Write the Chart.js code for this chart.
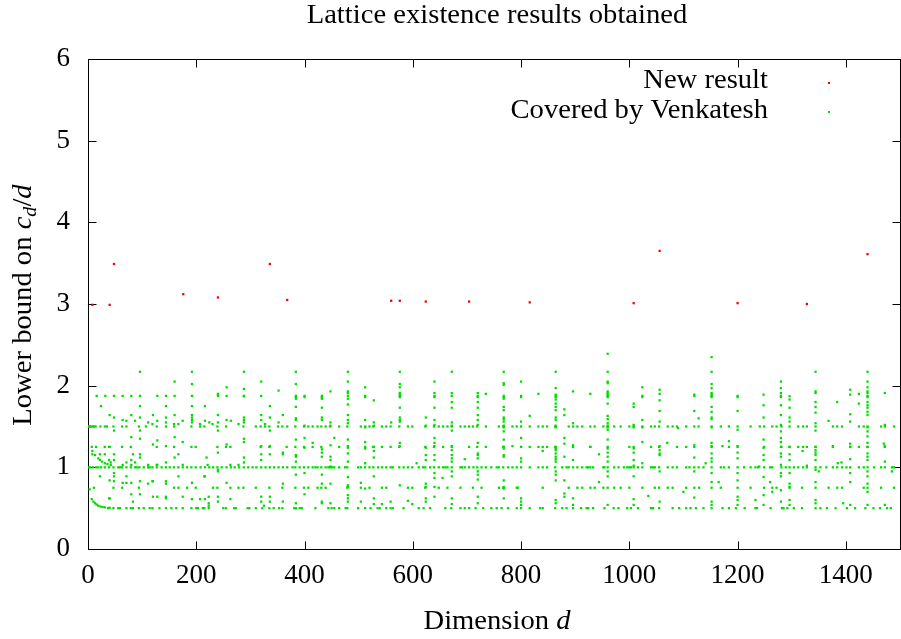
<!DOCTYPE html>
<html>
<head>
<meta charset="utf-8">
<script src="https://cdn.jsdelivr.net/npm/chart.js@4.4.0/dist/chart.umd.min.js"></script>
<style>
  html, body { margin: 0; padding: 0; background: #fff; overflow: hidden; }
  #wrap { width: 904px; height: 639px; }
</style>
</head>
<body>
<div id="wrap"><canvas id="latticeChart" width="904" height="639"></canvas></div>
<script>
// red points: new results
const newD = [8, 40, 48, 176, 240, 336, 368, 560, 576, 624, 704, 816, 1008, 1056, 1200, 1328, 1440];
const newVal = [2.99, 2.99, 3.49, 3.12, 3.08, 3.49, 3.05, 3.04, 3.04, 3.03, 3.03, 3.02, 3.01, 3.65, 3.01, 3.0, 3.61];

// green points, horizontal rows (d values at a given level)
const rowHalf = [37, 47, 56, 59, 71, 79, 83, 94, 103, 114, 119, 132, 144, 154, 163, 175, 191, 200, 203, 212, 215, 223, 250, 255, 270, 273, 295, 298, 310, 322, 335, 343, 353, 359,
  381, 384, 391, 395, 420, 444, 450, 455, 464, 476, 479, 499, 512, 522, 535, 539, 551, 559, 563, 583, 611, 620, 632, 660, 671, 688, 696, 704, 716, 730,
  745, 755, 764, 776, 792, 800, 816, 835, 840, 863, 876, 884, 896, 911, 921, 924, 933, 954, 971, 980, 996, 1003, 1016, 1040, 1044, 1055, 1080, 1092, 1105,
  1113, 1123, 1137, 1152, 1172, 1184, 1197, 1213, 1233, 1236, 1261, 1282, 1285, 1292, 1304, 1319, 1344, 1353, 1365, 1381, 1402, 1417, 1436, 1451, 1463, 1476, 1483];
const rowThreeQuarter = [11, 47, 63, 94, 159, 167, 183, 199, 231, 239, 263, 278, 287, 310, 335, 359, 383, 399, 407, 424, 431, 439, 479, 504, 520, 543, 551, 591, 599, 623, 648, 664, 688, 711, 727,
  759, 767, 792, 794, 840, 888, 904, 913, 928, 936, 952, 960, 972, 984, 1000, 1024, 1047, 1055, 1071, 1080, 1105,
  1120, 1129, 1152, 1169, 1200, 1224, 1249, 1264, 1272, 1296, 1319, 1344, 1368, 1384, 1393, 1433, 1440, 1465, 1489];
const rowOne = [1, 4, 9, 15, 19, 24, 31, 39, 47, 56, 59, 63, 71, 79, 87, 91, 95, 103, 111, 114, 119, 127, 136, 144, 151, 159, 167, 175, 183, 191, 199, 208, 216, 224, 231, 239, 247, 256, 264, 271, 279, 288, 296, 304, 311, 320, 328, 336, 344, 352, 360, 368,
  378, 383, 391, 399, 407, 415, 420, 424, 431, 439, 444, 447, 451, 455, 464, 475, 479, 499, 504, 512, 520, 527, 536, 543, 551, 559, 563, 575, 583, 591, 599, 611, 619, 623, 632, 639, 648, 656, 660, 664, 672, 688, 691, 696, 704, 712, 719, 727, 735,
  745, 755, 759, 767, 776, 784, 792, 800, 816, 832, 840, 848, 863, 876, 884, 888, 896, 904, 913, 921, 924, 928, 933, 952, 954, 960, 972, 980, 996, 1000, 1003, 1008, 1016, 1024, 1040, 1044, 1047, 1055, 1071, 1080, 1088, 1105,
  1111, 1120, 1128, 1137, 1152, 1169, 1175, 1184, 1200, 1212, 1224, 1233, 1238, 1249, 1260, 1264, 1281, 1289, 1296, 1304, 1312, 1321, 1328, 1344, 1353, 1364, 1376, 1384, 1393, 1401, 1408, 1424, 1433, 1440, 1452, 1465, 1472, 1485, 1489];
const rowFiveQuarter = [7, 15, 31, 39, 63, 79, 127, 159, 191, 199, 239, 255, 263, 319, 335, 367, 383, 399, 415, 431, 464, 512, 527, 543, 559, 575, 623, 639, 656, 672, 704, 719, 735,
  767, 800, 816, 832, 840, 848, 863, 896, 928, 960, 1000, 1008, 1040, 1055, 1088, 1105,
  1120, 1152, 1184, 1200, 1249, 1281, 1296, 1312, 1321, 1328, 1344, 1376, 1408, 1424, 1440, 1472];
const rowThreeHalf = [1, 2, 4, 6, 9, 11, 14, 23, 31, 35, 47, 63, 71, 94, 107, 127, 144, 159, 191, 207, 215, 239, 255, 287, 310, 319, 327, 335, 351, 359, 368,
  383, 399, 407, 415, 424, 431, 439, 447, 464, 479, 504, 512, 520, 527, 543, 551, 559, 575, 591, 599, 623, 639, 648, 656, 664, 672, 688, 696, 704, 711, 719, 735,
  759, 767, 784, 792, 800, 816, 832, 840, 848, 863, 888, 896, 904, 913, 928, 936, 952, 960, 972, 984, 1000, 1008, 1024, 1040, 1047, 1055, 1071, 1080, 1088, 1105,
  1120, 1128, 1152, 1169, 1184, 1200, 1224, 1241, 1249, 1264, 1272, 1281, 1296, 1312, 1321, 1328, 1344, 1376, 1384, 1393, 1424, 1433, 1440, 1465, 1472, 1489];
const rowFifteenEighth = [16, 32, 48, 64, 80, 96, 128, 144, 160, 192, 240, 256, 288, 320, 384, 400, 432, 480, 512, 576, 640, 672, 720, 768, 800, 864, 960, 1024, 1120, 1152, 1200, 1280, 1440];
const rowLevels = [0.5, 0.75, 1, 1.25, 1.5, 1.875];
const rowLists = [rowHalf, rowThreeQuarter, rowOne, rowFiveQuarter, rowThreeHalf, rowFifteenEighth];

// green points, vertical columns (values at a given d)
const colD = [24, 40, 48, 64, 80, 96, 120, 128, 144, 160, 192, 216, 240, 256, 288, 320, 336, 352, 360,
  384, 400, 432, 448, 480, 512, 528, 576, 624, 640, 672, 720,
  768, 800, 864, 880, 896, 928, 960, 1008, 1024, 1056,
  1120, 1152, 1200, 1248, 1280, 1296, 1344, 1408, 1440, 1472];
const colVals = [
  [1.75],
  [1.64, 1.25, 0.84, 0.62],
  [1.61, 1.45, 1.16, 1.09, 0.93, 0.89, 0.83],
  [1.58, 1.03, 0.81],
  [1.64, 1.37, 1.09, 1.03, 0.81, 0.67],
  [2.17, 1.75, 1.61, 1.45, 1.35, 1.16, 1.12, 0.83, 0.67],
  [1.64, 1.28, 0.83, 0.64],
  [1.57, 1.33, 1.03, 0.64],
  [1.75, 1.61, 1.55, 1.26, 1.06, 0.83, 0.8, 0.64, 0.62],
  [2.05, 1.64, 1.37, 1.12],
  [2.17, 2.02, 1.75, 1.64, 1.61, 1.58, 1.55, 0.81, 0.61],
  [1.75, 1.57, 0.89, 0.61],
  [1.9, 1.64, 1.55, 1.45, 1.18, 0.97, 0.95, 0.64, 0.58],
  [1.98, 1.58, 1.28, 0.81],
  [2.17, 1.96, 1.87, 1.61, 1.58, 1.55, 1.35, 1.31, 1.12, 1.06],
  [2.05, 1.64, 1.58, 1.26, 1.16, 1.09, 0.64, 0.58],
  [1.75, 1.61, 1.45, 1.26, 1.16, 0.64, 0.58],
  [1.94, 1.55],
  [1.64, 1.18, 1.16, 0.8, 0.58],
  [2.17, 2.02, 1.86, 1.84, 1.74, 1.6, 1.58, 1.34, 1.15, 1.13, 1.07, 0.91, 0.56],
  [1.86, 1.51, 1.36, 1.24, 0.93, 0.67],
  [1.86, 1.84, 1.73, 1.61, 1.58, 1.22, 1.18, 1.13, 0.91, 0.8, 0.58, 0.56],
  [1.93, 1.55, 1.51, 1.27, 1.13, 1.09, 1.01, 0.8, 0.56],
  [2.17, 2.05, 1.93, 1.91, 1.84, 1.77, 1.64, 1.58, 1.54, 1.34, 1.26, 1.24, 1.17, 1.07, 0.88, 0.78, 0.76, 0.66, 0.62, 0.58],
  [1.98, 1.86, 1.58, 1.49, 1.31, 1.23, 1.05, 0.74],
  [1.82, 1.55, 1.51, 1.25, 1.2, 1.12, 0.89, 0.62, 0.55],
  [2.17, 2.02, 1.98, 1.91, 1.89, 1.86, 1.73, 1.61, 1.58, 1.56, 1.3, 1.26, 0.78],
  [1.61, 1.51, 1.24, 1.15, 1.09, 0.8, 0.76, 0.62, 0.58],
  [2.05, 1.91, 1.86, 1.73, 1.58, 1.52, 1.36, 1.3, 1.26, 1.15, 1.09, 0.93, 0.87, 0.76, 0.64],
  [2.17, 1.91, 1.8, 1.73, 1.55, 1.51, 1.45, 1.26, 1.21, 1.15, 1.11, 1.07, 0.95, 0.89, 0.62, 0.55],
  [1.91, 1.86, 1.8, 1.73, 1.64, 1.58, 1.52, 1.3, 1.17, 1.15, 1.11, 0.95, 0.91, 0.85, 0.64, 0.56],
  [2.17, 2.03, 2.01, 1.86, 1.84, 1.74, 1.7, 1.61, 1.59, 1.56, 1.51, 1.49, 1.44, 1.34, 1.25, 1.23, 1.15, 1.13, 0.84, 0.76, 0.74, 0.62],
  [2.05, 1.86, 1.56, 1.36, 1.25, 1.11, 1.07, 0.62, 0.58, 0.54],
  [2.17, 1.97, 1.89, 1.86, 1.83, 1.78, 1.74, 1.7, 1.61, 1.58, 1.51, 1.49, 1.25, 1.23, 1.21, 1.17, 1.13, 1.1, 1.07, 0.95, 0.91, 0.84, 0.6, 0.56],
  [1.71, 1.64, 1.36, 1.29, 1.13, 0.84, 0.68, 0.64],
  [1.93, 1.54, 1.27, 1.09, 0.62, 0.54],
  [1.9, 1.25],
  [2.39, 2.17, 2.05, 2.03, 1.93, 1.91, 1.89, 1.86, 1.78, 1.63, 1.59, 1.54, 1.51, 1.49, 1.46, 1.34, 1.23, 1.18, 1.13, 1.07, 0.95, 0.89, 0.54],
  [1.78, 1.74, 1.52, 1.49, 1.23, 1.18, 1.09, 1.02, 0.89, 0.61, 0.54],
  [1.98, 1.86, 1.58, 1.49, 1.31, 1.05],
  [1.95, 1.9, 1.82, 1.69, 1.56, 1.26, 1.21, 1.17, 1.15, 0.95, 0.58],
  [1.89, 1.69, 1.27, 1.12, 0.95, 0.63],
  [2.35, 2.17, 2.02, 1.97, 1.91, 1.89, 1.86, 1.74, 1.68, 1.61, 1.59, 1.49, 1.3, 1.26, 1.17, 1.11, 1.07, 0.93, 0.82, 0.58, 0.54],
  [1.86, 1.69, 1.46, 1.26, 1.18, 1.11, 0.93, 0.84, 0.64, 0.6, 0.54],
  [1.89, 1.76, 1.61, 1.34, 1.24, 1.15, 1.09, 0.88, 0.66, 0.54],
  [2.05, 1.97, 1.91, 1.86, 1.76, 1.64, 1.52, 1.44, 1.36, 1.31, 1.25, 1.17, 1.13, 1.03, 0.93, 0.89, 0.72, 0.58],
  [1.87, 1.83, 1.73, 1.61, 1.56, 1.25, 1.16, 1.09, 0.93, 0.8, 0.76, 0.6, 0.54],
  [2.17, 1.93, 1.91, 1.8, 1.74, 1.67, 1.54, 1.45, 1.25, 1.21, 1.18, 1.15, 1.09, 0.97, 0.82, 0.6, 0.56],
  [1.95, 1.89, 1.65, 1.56, 1.29, 1.25, 1.1, 0.93, 0.82, 0.54],
  [2.17, 2.05, 1.98, 1.93, 1.91, 1.86, 1.8, 1.76, 1.73, 1.68, 1.64, 1.49, 1.44, 1.38, 1.3, 1.25, 1.17, 1.13, 1.09, 0.95, 0.89, 0.8, 0.7, 0.54],
  [1.91, 1.52, 1.26, 1.07, 0.54]
];

// green points near the left edge (the two curved runs)
const curveLowD = [3, 7, 10, 13, 16, 19, 23, 27, 31, 40];
const curveLowVal = [0.73, 0.61, 0.58, 0.56, 0.545, 0.53, 0.52, 0.515, 0.51, 0.505];
const curveOneD = [8, 13, 19, 22, 26, 31, 36, 42];
const curveOneVal = [1.2, 1.15, 1.11, 1.09, 1.07, 1.05, 1.04, 1.03];

// green points, loose ones
const looseD = [71, 87, 175, 264, 111, 224, 119, 159, 167, 207, 230, 278, 327, 175, 167, 8, 22, 31, 83, 219, 39, 42, 71, 87, 111, 127, 175, 221, 263, 278,
  22, 71, 167, 215, 111, 71, 119, 175, 223, 39, 207, 263, 83, 223, 325, 223,
  415, 504, 504, 543, 559, 591, 599, 455, 560, 607, 696, 655,
  832, 735, 816, 840, 944, 990, 1035, 944, 784, 1090, 1070, 1100,
  1128, 1141, 1165, 1172, 1184, 1233, 1240, 1260, 1264, 1320, 1328, 1350, 1368, 1376, 1385, 1395, 1392, 1424, 1424, 1384, 1470, 1485];
const looseVal = [1.57, 1.57, 1.57, 1.57, 1.55, 1.55, 1.53, 1.53, 1.53, 1.53, 1.53, 1.53, 1.53, 1.31, 1.16, 1.16, 1.16, 1.16, 1.16, 1.12, 1.09, 1.06, 1.06, 1.06, 1.03, 1.03, 1.03, 1.03, 1.03, 1.03,
  0.89, 0.89, 0.89, 0.89, 0.8, 0.81, 0.83, 0.64, 0.64, 0.62, 0.61, 0.61, 0.58, 0.56, 0.53, 0.53,
  1.3, 0.81, 0.58, 0.55, 0.58, 0.59, 0.55, 1.36, 1.55, 1.05, 1.1, 0.87,
  1.9, 1.9, 1.63, 1.2, 1.16, 1.0, 0.65, 0.82, 1.26, 1.48, 1.3, 0.7,
  1.6, 1.05, 0.82, 1.26, 1.32, 0.6, 1.01, 0.82, 0.7, 1.2, 1.02, 0.95, 1.57, 1.26, 1.05, 0.56, 1.06, 1.9, 1.78, 1.8, 1.29, 0.95];

const xTicks = [0, 200, 400, 600, 800, 1000, 1200, 1400];
const yTicks = [0, 1, 2, 3, 4, 5, 6];

const RED = '#f00000';
const GREEN = '#00dc00';
const FONT = '"Liberation Serif", "Times New Roman", serif';
const FS = 27;
const STRETCH = 1.06;

function pairUp(xs, ys) {
    return xs.map((d, i) => ({ x: d, y: ys[i] }));
}

let greenPts = [];
rowLists.forEach((list, i) => {
    list.forEach(d => greenPts.push({ x: d, y: rowLevels[i] }));
});
colD.forEach((d, i) => {
    colVals[i].forEach(v => greenPts.push({ x: d, y: v }));
});
greenPts = greenPts.concat(pairUp(curveLowD, curveLowVal), pairUp(curveOneD, curveOneVal), pairUp(looseD, looseVal));

// gnuplot style frame: border and inward ticks under the points, texts on top
const gnuplotFrame = {
    id: 'gnuplotFrame',
    beforeDatasetsDraw(chart) {
        const { ctx, chartArea: a, scales } = chart;
        const L = Math.round(a.left) + 0.5, R = Math.round(a.right) + 0.5;
        const T = Math.round(a.top) + 0.5, B = Math.round(a.bottom) + 0.5;
        ctx.save();
        ctx.strokeStyle = '#000';
        ctx.lineWidth = 1;
        ctx.strokeRect(L, T, R - L, B - T);
        ctx.beginPath();
        xTicks.forEach(v => {
            const px = Math.round(scales.x.getPixelForValue(v)) + 0.5;
            ctx.moveTo(px, B); ctx.lineTo(px, B - 8);
            ctx.moveTo(px, T); ctx.lineTo(px, T + 8);
        });
        yTicks.forEach(v => {
            const py = Math.round(scales.y.getPixelForValue(v)) + 0.5;
            ctx.moveTo(L, py); ctx.lineTo(L + 8, py);
            ctx.moveTo(R, py); ctx.lineTo(R - 8, py);
        });
        ctx.stroke();
        ctx.restore();
    },
    afterDraw(chart) {
        const { ctx } = chart;
        ctx.save();
        ctx.fillStyle = '#000';
        ctx.textBaseline = 'alphabetic';
        const normal = FS + 'px ' + FONT;
        const italic = 'italic ' + FS + 'px ' + FONT;
        const small = 'italic ' + Math.round(FS * 0.7) + 'px ' + FONT;

        // draw a run of [text, font, dy] parts, anchored at ax (0 left, 0.5 centre, 1 right)
        function runs(parts, x0, y0, ax) {
            let w = 0;
            parts.forEach(p => { ctx.font = p[1]; w += ctx.measureText(p[0]).width; });
            ctx.save();
            ctx.translate(x0, y0);
            ctx.scale(STRETCH, 1);
            let x = -w * ax;
            ctx.textAlign = 'left';
            parts.forEach(p => {
                ctx.font = p[1];
                ctx.fillText(p[0], x, p[2] || 0);
                x += ctx.measureText(p[0]).width;
            });
            ctx.restore();
        }

        runs([['Lattice existence results obtained', normal]], 497, 23, 0.5);
        runs([['Dimension ', normal], ['d', italic]], 497, 629, 0.5);

        ctx.save();
        ctx.translate(31, 305);
        ctx.rotate(-Math.PI / 2);
        runs([['Lower bound on ', normal], ['c', italic], ['d', small, 5], ['/', normal], ['d', italic]], 0, 0, 0.5);
        ctx.restore();

        // legend
        runs([['New result', normal]], 768, 88, 1);
        runs([['Covered by Venkatesh', normal]], 768, 118, 1);
        ctx.fillStyle = RED;
        ctx.fillRect(828, 82, 2, 2);
        ctx.fillStyle = GREEN;
        ctx.fillRect(828, 111, 2, 2);
        ctx.restore();
    }
};

const ctx = document.getElementById('latticeChart').getContext('2d');
new Chart(ctx, {
    type: 'scatter',
    data: {
        datasets: [{
            label: 'New result',
            data: pairUp(newD, newVal),
            backgroundColor: RED,
            pointStyle: 'rect',
            pointRadius: 1.6,
            borderWidth: 0
        }, {
            label: 'Covered by Venkatesh',
            data: greenPts,
            backgroundColor: GREEN,
            pointStyle: 'rect',
            pointRadius: 1.6,
            borderWidth: 0
        }]
    },
    options: {
        responsive: false,
        animation: false,
        events: [],
        layout: { padding: { top: 59, right: 1, left: 0, bottom: 0 } },
        plugins: {
            legend: { display: false },
            title: { display: false },
            tooltip: { enabled: false }
        },
        scales: {
            x: {
                type: 'linear',
                min: 0,
                max: 1500,
                afterBuildTicks: scale => { scale.ticks = xTicks.map(v => ({ value: v })); },
                afterFit: scale => { scale.height = 90; },
                grid: { display: false, drawTicks: false },
                border: { display: false },
                ticks: { color: '#000', font: { family: FONT, size: FS }, padding: 11, maxRotation: 0, callback: v => String(v) }
            },
            y: {
                type: 'linear',
                min: 0,
                max: 6,
                afterBuildTicks: scale => { scale.ticks = yTicks.map(v => ({ value: v })); },
                afterFit: scale => { scale.width = 88; },
                grid: { display: false, drawTicks: false },
                border: { display: false },
                ticks: { color: '#000', font: { family: FONT, size: FS }, padding: 18, callback: v => String(v) }
            }
        }
    },
    plugins: [gnuplotFrame]
});
</script>
</body>
</html>
